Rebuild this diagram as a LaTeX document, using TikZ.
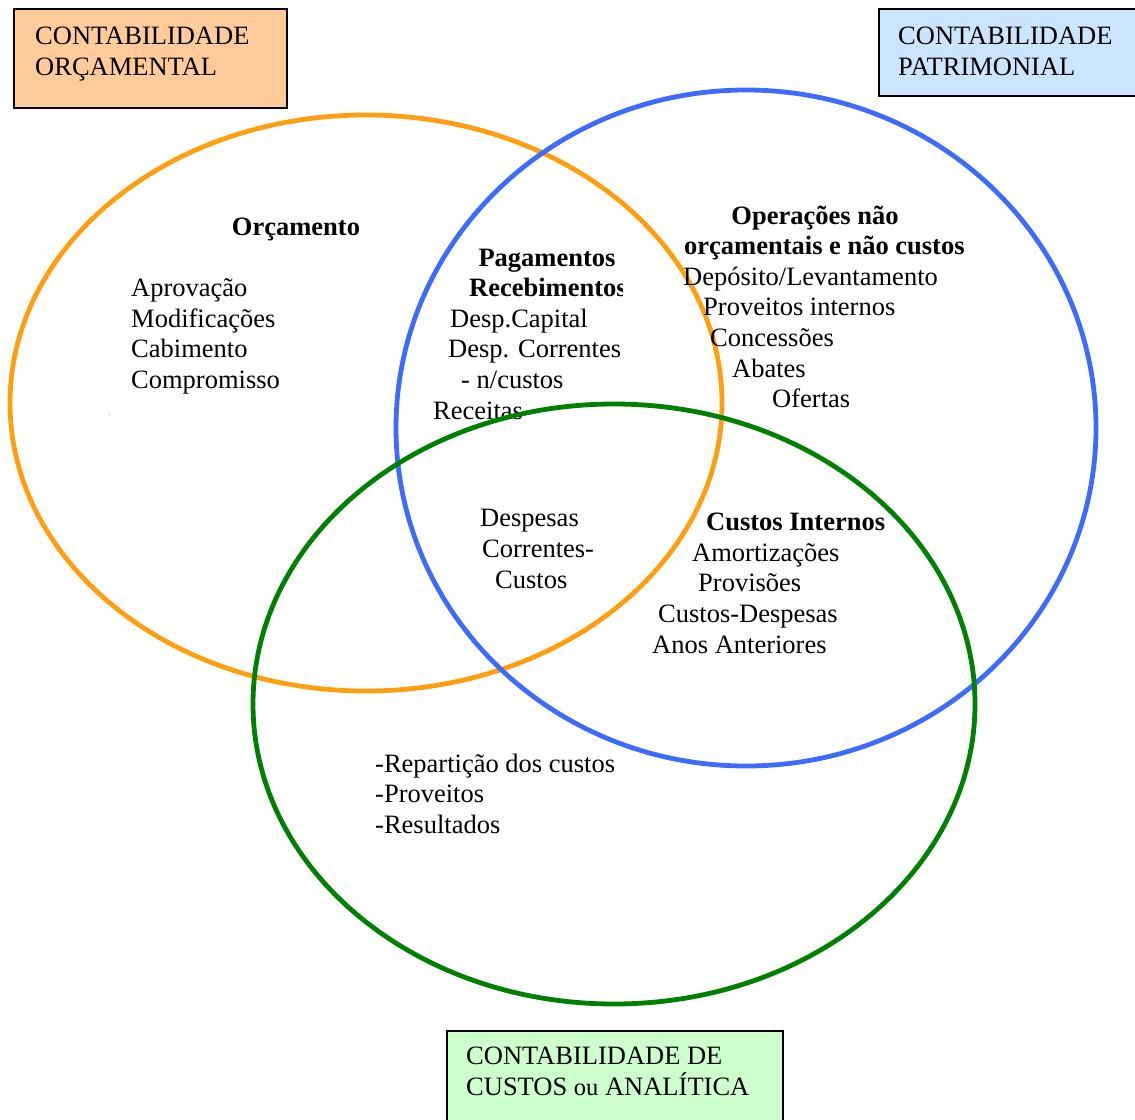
\documentclass[tikz,border=0pt]{standalone}
\usepackage{fontspec}
\setmainfont{Liberation Serif}
\definecolor{corange}{HTML}{FF9F0F}
\definecolor{cblue}{HTML}{3D6BFF}
\definecolor{cgreen}{HTML}{008000}
\definecolor{forange}{HTML}{FFCC99}
\definecolor{fblue}{HTML}{CCE5FF}
\definecolor{fgreen}{HTML}{CCFFCC}
\begin{document}
\begin{tikzpicture}[x=1pt,y=-1pt,
  txt/.style={font=\fontsize{26.5}{30.7}\selectfont, inner sep=0pt, anchor=base west},
  btxt/.style={txt, font=\fontsize{26.5}{30.7}\selectfont\bfseries},
  ring/.style={line width=4.8pt},
  box/.style={draw=black, line width=2pt, rectangle, anchor=north west, inner sep=0pt}]
\useasboundingbox (0,0) rectangle (1135,1119);
% boxes
\node[box, fill=forange, minimum width=273pt, minimum height=99pt] (ob) at (13,8) {};
\node[box, fill=fblue, minimum width=262pt, minimum height=87pt] (pb) at (878,8) {};
\node[box, fill=fgreen, minimum width=336pt, minimum height=95pt] (cb) at (446,1030) {};
\node[txt] (ob1) at (35,44) {CONTABILIDADE};
\node[txt] (ob2) at (35,75) {ORÇAMENTAL};
\node[txt] (pb1) at (898,44) {CONTABILIDADE};
\node[txt] (pb2) at (898,75) {PATRIMONIAL};
\node[txt] (cb1) at (466,1064) {CONTABILIDADE DE};
\node[txt] (cb2) at (466,1095) {CUSTOS {\fontsize{24.5}{28}\selectfont ou} ANALÍTICA};
% circles
\draw[ring, corange] (366,403) ellipse [x radius=356, y radius=288];
\draw[ring, cblue] (746,428) ellipse [x radius=350, y radius=338];
% Orcamento
\node[btxt, anchor=base] (orc) at (296,235) {Orçamento};
\node[txt] (o1) at (131,296) {Aprovação};
\node[txt] (o2) at (131,327) {Modificações};
\node[txt] (o3) at (131,357) {Cabimento};
\node[txt] (o4) at (131,388) {Compromisso};
\node[txt, font=\fontsize{5}{6}\selectfont] (mk) at (109,415) {:};
% Pagamentos
\node[btxt, anchor=base] (pag) at (547,266) {Pagamentos};
\begin{scope}
\clip (400,200) rectangle (622,320);
\node[btxt] (rec) at (469,296) {Recebimentos};
\end{scope}
\node[txt] (p1) at (450,327) {Desp.Capital};
\node[txt] (p2) at (448,357) {Desp. Correntes};
\node[txt] (p3) at (461,388) {- n/custos};
\node[txt] (p4) at (433,419) {Receitas};
% Operacoes
\node[btxt, anchor=base] (op) at (815,224) {Operações não};
\node[btxt] (op2) at (684,254) {orçamentais e não custos};
\node[txt] (q1) at (683,285) {Depósito/Levantamento};
\node[txt] (q2) at (703,315) {Proveitos internos};
\node[txt] (q3) at (710,346) {Concessões};
\node[txt] (q4) at (732,377) {Abates};
\node[txt] (q5) at (772,407) {Ofertas};
% Despesas correntes-custos
\node[txt] (d1) at (480,526) {Despesas};
\node[txt] (d2) at (482,557) {Correntes-};
\node[txt] (d3) at (495,588) {Custos};
% Custos internos
\node[btxt] (ci) at (706,530) {Custos Internos};
\node[txt] (c1) at (692,561) {Amortizações};
\node[txt] (c2) at (698,591) {Provisões};
\node[txt] (c3) at (658,622) {Custos-Despesas};
\node[txt] (c4) at (652,653) {Anos Anteriores};
% analitica
\node[txt] (r1) at (375,772) {-Repartição dos custos};
\node[txt] (r2) at (375,802) {-Proveitos};
\node[txt] (r3) at (375,833) {-Resultados};
% green circle on top
\draw[ring, cgreen] (614,704) ellipse [x radius=361, y radius=300];
\end{tikzpicture}
\end{document}
